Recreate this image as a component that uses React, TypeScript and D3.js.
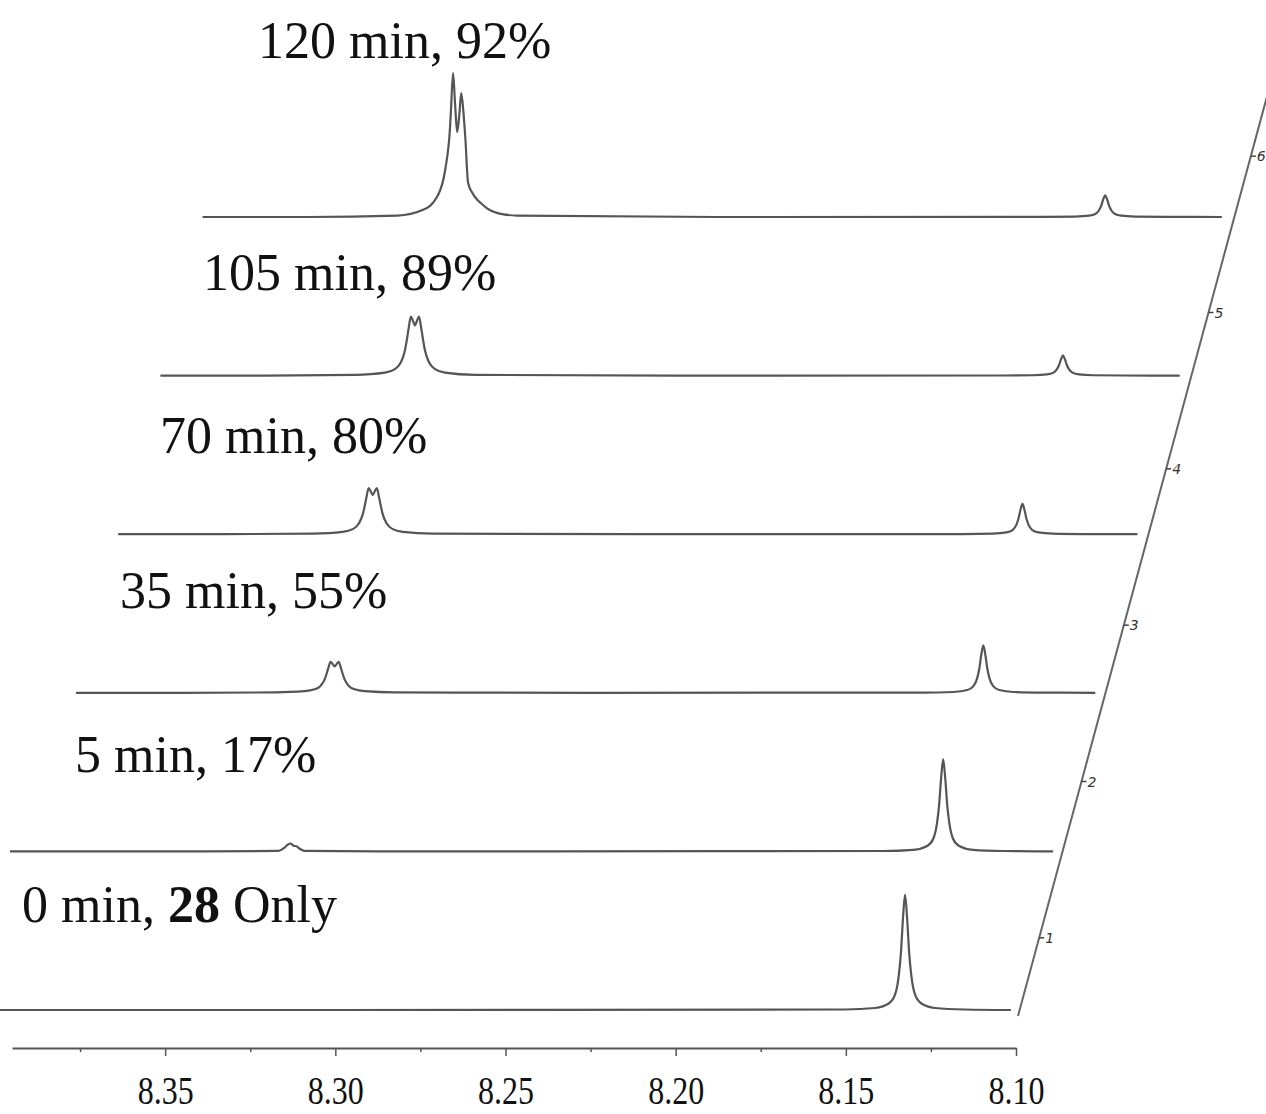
import * as d3 from 'd3';
import { useEffect, useRef } from 'react';

type Pt = [number, number]; // [ppm, intensity]

// Reaction time and conversion for each stacked 1H NMR slice (front to back)
const runTimes = ['0 min', '5 min', '35 min', '70 min', '105 min', '120 min'];
const conversions = ['28 Only', '17%', '55%', '80%', '89%', '92%'];

// Axis ticks
const ppmMajor = [8.35, 8.3, 8.25, 8.2, 8.15, 8.1];
const ppmMinor = [8.375, 8.325, 8.275, 8.225, 8.175, 8.125];
const sliceTicks = [1, 2, 3, 4, 5, 6];

// Traces, [ppm, intensity]
const spec0: Pt[] = [
  [8.401, 0], [8.3, 0], [8.1502, 0.35], [8.1414, 1.4], [8.1373, 4.7], [8.1355, 11],
  [8.1344, 24.8], [8.1338, 40], [8.1332, 64], [8.1326, 80], [8.132, 64], [8.1314, 40],
  [8.1308, 24.8], [8.1297, 11], [8.1279, 4.7], [8.1238, 1.4], [8.115, 0.35], [8.1015, 0],
];
const spec1: Pt[] = [
  [8.408, 0], [8.36, 0], [8.3291, 0.3], [8.3274, 2.5], [8.3262, 5], [8.3256, 5.5],
  [8.3247, 4], [8.3238, 3.5], [8.323, 2], [8.3215, 0.4], [8.3, 0], [8.2, 0.2],
  [8.1514, 0.28], [8.1426, 1.1], [8.1385, 3.8], [8.1367, 8.8], [8.1356, 19.8],
  [8.135, 32], [8.1344, 51], [8.1338, 64], [8.1332, 51], [8.1326, 32], [8.132, 19.8],
  [8.1309, 8.8], [8.1291, 3.8], [8.125, 1.1], [8.1162, 0.28], [8.1015, 0],
];
const spec2: Pt[] = [
  [8.401, 0], [8.37, 0], [8.3426, 0.26], [8.3338, 1.1], [8.3309, 2.4], [8.3291, 4.9],
  [8.3279, 9.5], [8.3274, 12.9], [8.3268, 17.6], [8.3262, 21.5], [8.3256, 20],
  [8.325, 18.3], [8.3244, 20], [8.3238, 21.5], [8.3232, 17.6], [8.3226, 12.9],
  [8.3221, 9.5], [8.3209, 4.9], [8.3191, 2.4], [8.3162, 1.1], [8.3074, 0.26], [8.25, 0],
  [8.152, 0.15], [8.1432, 0.56], [8.1391, 1.9], [8.1373, 4.6], [8.1362, 10.2],
  [8.1356, 16.5], [8.135, 26.4], [8.1344, 33], [8.1338, 26.4], [8.1332, 16.5],
  [8.1326, 10.2], [8.1315, 4.6], [8.1297, 1.9], [8.1256, 0.56], [8.1168, 0.15], [8.1015, 0],
];
const spec3: Pt[] = [
  [8.401, 0], [8.37, 0], [8.3438, 0.4], [8.335, 1.6], [8.3321, 3.5], [8.3303, 7.4],
  [8.3291, 14.1], [8.3286, 19.2], [8.328, 26.2], [8.3274, 32], [8.3268, 29.8],
  [8.3262, 27.2], [8.3256, 29.8], [8.325, 32], [8.3244, 26.2], [8.3238, 19.2],
  [8.3233, 14.1], [8.3221, 7.4], [8.3203, 3.5], [8.3174, 1.6], [8.3086, 0.4], [8.25, 0],
  [8.1529, 0.09], [8.1441, 0.36], [8.14, 1.24], [8.1382, 2.9], [8.1371, 6.5],
  [8.1365, 10.5], [8.1359, 16.8], [8.1353, 21], [8.1347, 16.8], [8.1341, 10.5],
  [8.1335, 6.5], [8.1324, 2.9], [8.1306, 1.24], [8.1265, 0.36], [8.1177, 0.09], [8.1015, 0],
];
const spec4: Pt[] = [
  [8.401, 0], [8.37, 0], [8.3438, 0.5], [8.335, 2.05], [8.3321, 4.5], [8.3303, 9.4],
  [8.3291, 18], [8.3286, 24.6], [8.328, 33.6], [8.3274, 41], [8.3268, 38.1],
  [8.3262, 34.9], [8.3256, 38.1], [8.325, 41], [8.3244, 33.6], [8.3238, 24.6],
  [8.3233, 18], [8.3221, 9.4], [8.3203, 4.5], [8.3174, 2.05], [8.3086, 0.5], [8.25, 0],
  [8.1534, 0.06], [8.1446, 0.24], [8.1405, 0.83], [8.1387, 1.9], [8.1376, 4.3],
  [8.137, 7], [8.1364, 11.2], [8.1358, 14], [8.1352, 11.2], [8.1346, 7],
  [8.134, 4.3], [8.1329, 1.9], [8.1311, 0.83], [8.127, 0.24], [8.1182, 0.06], [8.1015, 0],
];
const spec5: Pt[] = [
  [8.401, 0], [8.37, 0], [8.3438, 1], [8.3362, 5], [8.3321, 14], [8.3297, 33],
  [8.3283, 62], [8.328, 75], [8.3274, 100], [8.3268, 78], [8.3262, 59], [8.3256, 70],
  [8.325, 86], [8.3244, 74], [8.3238, 55], [8.323, 24], [8.3218, 17], [8.3203, 12],
  [8.3194, 10], [8.3174, 6], [8.313, 2], [8.3086, 1], [8.25, 0],
  [8.1534, 0.07], [8.1446, 0.26], [8.1405, 0.9], [8.1387, 2.1], [8.1376, 4.7],
  [8.137, 7.5], [8.1364, 12], [8.1358, 15], [8.1352, 12], [8.1346, 7.5],
  [8.134, 4.7], [8.1329, 2.1], [8.1311, 0.9], [8.127, 0.26], [8.1182, 0.07], [8.1015, 0],
];
const spectra = [spec0, spec1, spec2, spec3, spec4, spec5];

// where each annotation sits (left edge, text baseline)
const labelPos: [number, number][] = [[22, 922], [75, 772], [120, 608], [160, 453], [203, 290], [258, 58]];

const W = 1266;
const H = 1114;
const serif = '"Liberation Serif", "Times New Roman", serif';

const App = () => {
  const svgRef = useRef<SVGSVGElement | null>(null);

  useEffect(() => {
    if (!svgRef.current) return;
    const svg = d3.select(svgRef.current);
    svg.selectAll('*').remove();

    // chemical shift of the front slice, reversed like NMR
    const x = d3.scaleLinear().domain([8.395, 8.1]).range([12, 1016]);
    const inten = d3.scaleLinear().domain([0, 100]).range([0, 144]);
    // shift of each slice into the depth
    const sliceX = d3.scaleLinear().domain([0, 5]).range([0, 211]);
    const sliceY = d3.scaleLinear().domain([0, 5]).range([1010, 217]);
    // slanted slice axis
    const depthX = d3.scaleLinear().domain([0.5, 6.5]).range([1018, 1272]);
    const depthY = d3.scaleLinear().domain([0.5, 6.5]).range([1016, 78]);

    // spectra
    spectra.forEach((s, i) => {
      const line = d3.line<Pt>()
        .x(d => x(d[0]) + sliceX(i))
        .y(d => sliceY(i) - inten(d[1]))
        .curve(d3.curveMonotoneX);
      svg.append('path')
        .attr('d', line(s) || '')
        .attr('fill', 'none')
        .attr('stroke', '#555')
        .attr('stroke-width', 2.2)
        .attr('stroke-linejoin', 'round');
    });

    // slanted axis
    svg.append('line')
      .attr('x1', depthX(0.5)).attr('y1', depthY(0.5))
      .attr('x2', depthX(6.7)).attr('y2', depthY(6.7))
      .attr('stroke', '#666').attr('stroke-width', 2);
    const dt = svg.append('g').selectAll('g').data(sliceTicks).join('g')
      .attr('transform', d => `translate(${depthX(d)},${depthY(d)})`);
    dt.append('line').attr('x1', 0).attr('x2', 5).attr('stroke', '#444').attr('stroke-width', 1.5);
    dt.append('text')
      .attr('x', 6).attr('dy', '0.36em')
      .style('font-family', '"DejaVu Sans", sans-serif')
      .style('font-style', 'italic')
      .style('font-size', '14px')
      .style('fill', '#333')
      .text(d => String(d));

    // bottom ppm axis
    const axisG = svg.append('g').attr('transform', 'translate(0,1048)');
    const minorG = axisG.append('g').call(
      d3.axisBottom(x).tickValues(ppmMinor).tickSize(4).tickSizeOuter(0).tickFormat(() => '')
    );
    minorG.select('.domain').remove();
    minorG.selectAll('.tick line').attr('stroke', '#555').attr('stroke-width', 1.5);
    const majorG = axisG.append('g').call(
      d3.axisBottom(x).tickValues(ppmMajor).tickSize(8).tickSizeOuter(0).tickPadding(20)
        .tickFormat(d => d3.format('.2f')(d as number))
    );
    majorG.select('.domain').attr('stroke', '#555').attr('stroke-width', 2);
    majorG.selectAll('.tick line').attr('stroke', '#555').attr('stroke-width', 1.5);
    majorG.selectAll('.tick text')
      .attr('fill', '#111')
      .attr('textLength', 56)
      .attr('lengthAdjust', 'spacingAndGlyphs')
      .style('font-family', serif)
      .style('font-size', '40px');

    // annotations
    const lbl = svg.append('g')
      .style('font-family', serif)
      .style('font-size', '52px')
      .style('fill', '#111');
    runTimes.forEach((t, i) => {
      const txt = lbl.append('text').attr('x', labelPos[i][0]).attr('y', labelPos[i][1]);
      if (i === 0) {
        const [num, ...rest] = conversions[0].split(' ');
        txt.append('tspan').text(`${t}, `);
        txt.append('tspan').style('font-weight', 'bold').text(num);
        txt.append('tspan').text(' ' + rest.join(' '));
      } else {
        txt.text(`${t}, ${conversions[i]}`);
      }
    });
  }, []);

  return (
    <div style={{ position: 'absolute', left: 0, top: 0, background: '#fff' }}>
      <svg ref={svgRef} width={W} height={H} style={{ display: 'block' }} />
    </div>
  );
};

export default App;
